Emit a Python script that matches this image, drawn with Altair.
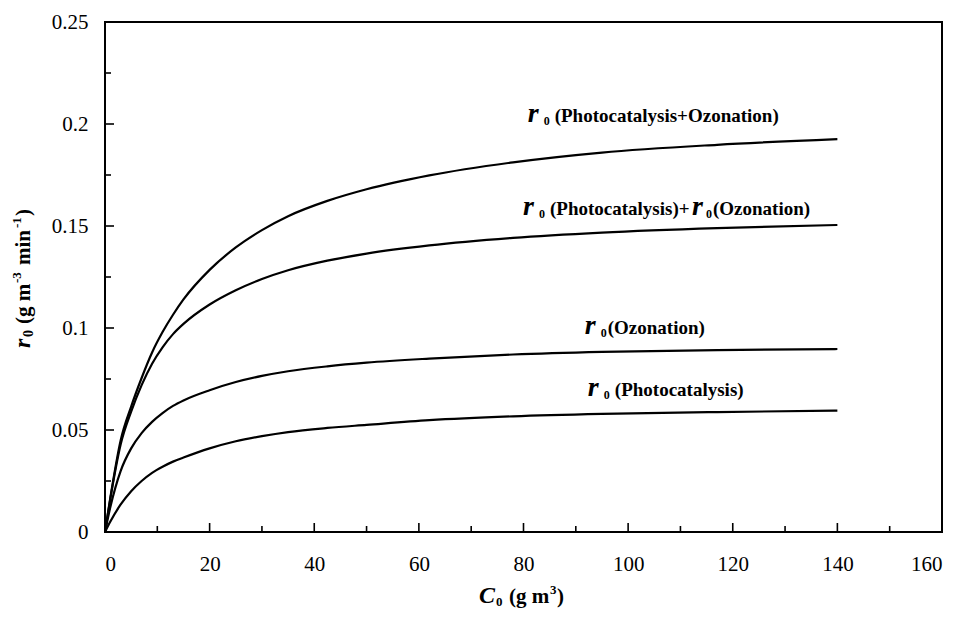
import altair as alt
import pandas as pd

# ---------------- data ----------------
C = [0, 1, 3, 5, 7, 9, 11, 13, 15, 20, 25, 30, 35, 42.5, 50, 62, 78, 95, 117, 140]
r_photo_ozon = [0, 0.0165, 0.045, 0.0615, 0.0755, 0.088, 0.098, 0.1065, 0.114, 0.1285, 0.1395,
                0.148, 0.1548, 0.1623, 0.168, 0.1748, 0.1812, 0.186, 0.1898, 0.1926]
r_sum = [0, 0.016, 0.043, 0.059, 0.072, 0.0825, 0.0905, 0.097, 0.102, 0.1115, 0.1185,
         0.124, 0.1283, 0.133, 0.1365, 0.1405, 0.1442, 0.1468, 0.149, 0.1505]
r_ozon = [0, 0.012, 0.030, 0.041, 0.0485, 0.054, 0.0583, 0.0618, 0.0645, 0.0695, 0.0735,
          0.0765, 0.0788, 0.0812, 0.083, 0.085, 0.087, 0.0883, 0.0892, 0.0897]
r_photo = [0, 0.005, 0.0135, 0.020, 0.025, 0.029, 0.032, 0.0345, 0.0365, 0.041, 0.0445,
           0.047, 0.049, 0.051, 0.0525, 0.0548, 0.0567, 0.0579, 0.0588, 0.0595]
series_names = ["P+O", "P+O sum", "O", "P"]
series_vals = [r_photo_ozon, r_sum, r_ozon, r_photo]

x_tick_labels = [0, 20, 40, 60, 80, 100, 120, 140, 160]
x_major = [20, 40, 60, 80, 100, 120, 140]
x_minor = [10, 30, 50, 70, 90, 110, 130, 150]
y_tick_labels = [0, 0.05, 0.1, 0.15, 0.2, 0.25]
y_major = [0.05, 0.1, 0.15, 0.2]
y_minor = [0.025, 0.075, 0.125, 0.175, 0.225]

# curve labels: anchor (data coords) and pieces (text, kind)
label_x = [80.8, 79.9, 91.7, 92.3]
label_y = [0.2009, 0.1553, 0.0969, 0.0665]
label_parts = [
    [("r", "r"), ("0", "sub"), ("(Photocatalysis+Ozonation)", "main")],
    [("r", "r"), ("0", "sub"), ("(Photocatalysis)+", "main"), ("r", "r"), ("0", "sub"), ("(Ozonation)", "main")],
    [("r", "r"), ("0", "sub"), ("(Ozonation)", "main")],
    [("r", "r"), ("0", "sub"), ("(Photocatalysis)", "main")],
]
label_dx = [
    [0, 16, 27],
    [0, 16, 27, 169, 183, 190],
    [0, 16, 23],
    [0, 16, 27],
]

# ---------------- layout ----------------
W, H = 837, 510
FONT = "Liberation Serif"
STYLE = {
    "r": dict(fontSize=28, fontStyle="italic", fontWeight="bold", dy=0),
    "sub": dict(fontSize=12, fontStyle="normal", fontWeight="bold", dy=3),
    "main": dict(fontSize=19, fontStyle="normal", fontWeight="bold", dy=0),
}

xs = alt.Scale(domain=[0, 160], nice=False, zero=False)
ys = alt.Scale(domain=[0, 0.25], nice=False, zero=False)

rows = []
for name, vals in zip(series_names, series_vals):
    for c, v in zip(C, vals):
        rows.append({"C": c, "r": v, "series": name})
df = pd.DataFrame(rows)

lines = alt.Chart(df).mark_line(color="black", strokeWidth=2.2, interpolate="monotone").encode(
    x=alt.X("C:Q", scale=xs, title="",
            axis=alt.Axis(values=x_tick_labels, labelPadding=21, labelFontSize=21,
                          labelFont=FONT, labelColor="black", domain=False, ticks=False, grid=False)),
    y=alt.Y("r:Q", scale=ys, title="",
            axis=alt.Axis(values=y_tick_labels, format="~g", labelPadding=17, labelFontSize=21,
                          labelFont=FONT, labelColor="black", domain=False, ticks=False, grid=False)),
    detail="series:N",
)

layers = [lines]


def xtick(vals, length):
    return alt.Chart(pd.DataFrame({"C": vals})).mark_rule(color="black", strokeWidth=1.6).encode(
        x=alt.X("C:Q", scale=xs), y=alt.value(H), y2=alt.value(H - length))


def ytick(vals, length):
    return alt.Chart(pd.DataFrame({"r": vals})).mark_rule(color="black", strokeWidth=1.6).encode(
        y=alt.Y("r:Q", scale=ys), x=alt.value(0), x2=alt.value(length))


layers += [xtick(x_major, 9), xtick(x_minor, 6), ytick(y_major, 9), ytick(y_minor, 6)]

# curve labels
for lx, ly, parts, dxs in zip(label_x, label_y, label_parts, label_dx):
    for (txt, kind), dx in zip(parts, dxs):
        st = STYLE[kind]
        layers.append(
            alt.Chart(pd.DataFrame({"C": [lx], "r": [ly]})).mark_text(
                text=txt, align="left", baseline="alphabetic", font=FONT, color="black",
                fontSize=st["fontSize"], fontStyle=st["fontStyle"], fontWeight=st["fontWeight"],
                dx=dx, dy=st["dy"],
            ).encode(x=alt.X("C:Q", scale=xs), y=alt.Y("r:Q", scale=ys))
        )


def pix_text(px, py, txt, size, style="normal", dx=0, dy=0, angle=0):
    kw = dict(text=txt, align="left", baseline="alphabetic", font=FONT, color="black",
              fontSize=size, fontStyle=style, fontWeight="bold", dx=dx, dy=dy)
    if angle:
        kw["angle"] = angle
    return alt.Chart(pd.DataFrame({"a": [0]})).mark_text(**kw).encode(
        x=alt.value(px), y=alt.value(py))


# y axis title (rotated), built from pieces
yt_x, yt_y = -75, 326
layers += [
    pix_text(yt_x, yt_y, "r", 24, "italic", dx=0, angle=270),
    pix_text(yt_x, yt_y, "0", 14, dx=11, dy=3, angle=270),
    pix_text(yt_x, yt_y, "(g m", 21, dx=24, angle=270),
    pix_text(yt_x, yt_y, "-3", 13, dx=65, dy=-9, angle=270),
    pix_text(yt_x, yt_y, "min", 21, dx=83, angle=270),
    pix_text(yt_x, yt_y, "-1", 13, dx=120, dy=-9, angle=270),
    pix_text(yt_x, yt_y, ")", 21, dx=132, angle=270),
]

# x axis title
xt_x, xt_y = 374, 581
layers += [
    pix_text(xt_x, xt_y, "C", 24, "italic", dx=0),
    pix_text(xt_x, xt_y, "0", 13, dx=17, dy=3),
    pix_text(xt_x, xt_y, "(g m", 21, dx=30),
    pix_text(xt_x, xt_y, "3", 13, dx=71, dy=-9),
    pix_text(xt_x, xt_y, ")", 21, dx=78),
]

chart = alt.layer(*layers).properties(
    width=W, height=H,
    autosize=alt.AutoSizeParams(type="none"),
    padding={"left": 97, "top": 14, "right": 10, "bottom": 76},
).configure_view(
    stroke="black", strokeWidth=2
)

chart.save("out.html", embed_options={"renderer": "svg", "actions": False})
